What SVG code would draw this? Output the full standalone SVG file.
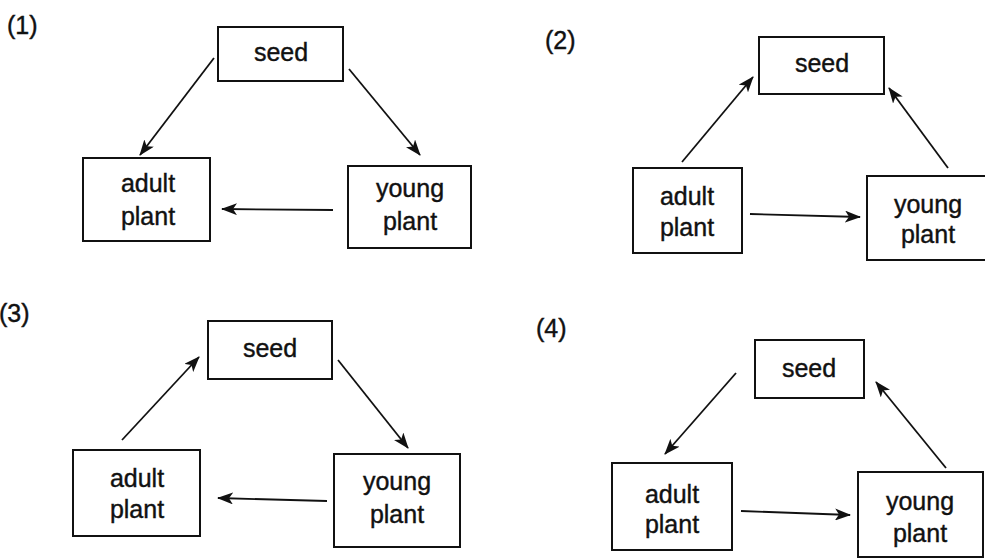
<svg xmlns="http://www.w3.org/2000/svg" width="985" height="558" viewBox="0 0 985 558">
<defs>
<style>
.box{fill:#fff;stroke:#111;stroke-width:2}
.t{font-family:"Liberation Sans",Arial,sans-serif;font-size:25px;fill:#111;stroke:#111;stroke-width:0.4;text-anchor:middle}
.lbl{font-family:"Liberation Sans",Arial,sans-serif;font-size:25px;fill:#111;stroke:#111;stroke-width:0.4}
.c{stroke:#111;stroke-width:1.8;fill:none;marker-end:url(#ah)}
</style>
<marker id="ah" viewBox="0 0 16 12" refX="15" refY="6" markerWidth="16" markerHeight="12" markerUnits="userSpaceOnUse" orient="auto">
<path d="M0,0 L16,6 L0,12 L4,6 z" fill="#111"/>
</marker>
</defs>
<rect width="985" height="558" fill="#fff"/>

<text class="lbl" x="7" y="34">(1)</text>
<text class="lbl" x="545" y="49">(2)</text>
<text class="lbl" x="-1" y="322">(3)</text>
<text class="lbl" x="536" y="337">(4)</text>

<g id="p1-seed"><rect class="box" x="218" y="27" width="125" height="54"/><text class="t" x="281" y="61">seed</text></g>
<g id="p1-adult"><rect class="box" x="83" y="158" width="127" height="83"/><text class="t" x="148" y="192">adult</text><text class="t" x="148" y="225">plant</text></g>
<g id="p1-young"><rect class="box" x="348" y="166" width="123" height="82"/><text class="t" x="410" y="197">young</text><text class="t" x="410" y="230">plant</text></g>

<g id="p2-seed"><rect class="box" x="759" y="37" width="125" height="57"/><text class="t" x="822" y="72">seed</text></g>
<g id="p2-adult"><rect class="box" x="633" y="168" width="109" height="85"/><text class="t" x="687" y="205">adult</text><text class="t" x="687" y="236">plant</text></g>
<g id="p2-young"><rect class="box" x="867" y="176" width="130" height="84"/><text class="t" x="928" y="213">young</text><text class="t" x="928" y="243">plant</text></g>

<g id="p3-seed"><rect class="box" x="208" y="321" width="124" height="58"/><text class="t" x="270" y="357">seed</text></g>
<g id="p3-adult"><rect class="box" x="73" y="450" width="127" height="86"/><text class="t" x="137" y="487">adult</text><text class="t" x="137" y="518">plant</text></g>
<g id="p3-young"><rect class="box" x="334" y="454" width="126" height="93"/><text class="t" x="397" y="490">young</text><text class="t" x="397" y="523">plant</text></g>

<g id="p4-seed"><rect class="box" x="755" y="340" width="109" height="58"/><text class="t" x="809" y="377">seed</text></g>
<g id="p4-adult"><rect class="box" x="612" y="463" width="120" height="87"/><text class="t" x="672" y="503">adult</text><text class="t" x="672" y="533">plant</text></g>
<g id="p4-young"><rect class="box" x="858" y="472" width="125" height="85"/><text class="t" x="920" y="510">young</text><text class="t" x="920" y="542">plant</text></g>

<g id="connectors">
<line class="c" x1="214" y1="58" x2="140" y2="155"/>
<line class="c" x1="349" y1="69" x2="420" y2="155"/>
<line class="c" x1="333" y1="210" x2="222" y2="209"/>

<line class="c" x1="682" y1="162" x2="753" y2="77"/>
<line class="c" x1="948" y1="168" x2="889" y2="88"/>
<line class="c" x1="750" y1="214" x2="860" y2="217"/>

<line class="c" x1="122" y1="440" x2="199" y2="357"/>
<line class="c" x1="338" y1="360" x2="408" y2="448"/>
<line class="c" x1="327" y1="501" x2="218" y2="498"/>

<line class="c" x1="736" y1="373" x2="665" y2="454"/>
<line class="c" x1="946" y1="468" x2="876" y2="382"/>
<line class="c" x1="741" y1="511" x2="850" y2="515"/>
</g>
</svg>
